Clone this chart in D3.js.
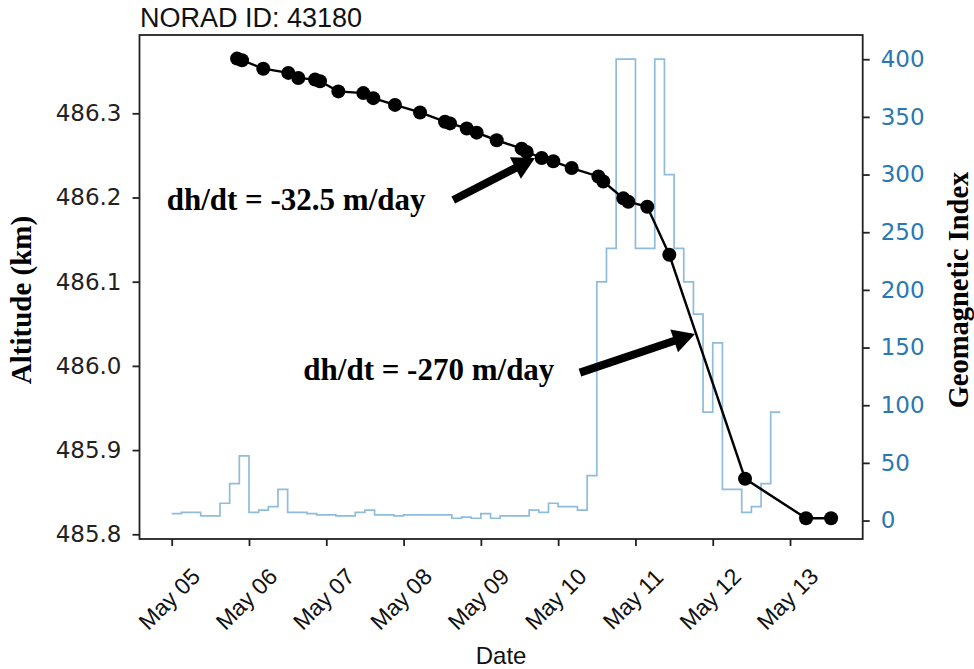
<!DOCTYPE html>
<html>
<head>
<meta charset="utf-8">
<script src="https://cdnjs.cloudflare.com/ajax/libs/d3/7.8.5/d3.min.js"></script>
<style>
  body { margin: 0; background: #fff; }
  svg { display: block; }
</style>
</head>
<body>
<svg></svg>
<script>
/* data */
var title = "NORAD ID: 43180";

// geomagnetic index, 3-hourly steps from May 05 00:00 UTC
var apStart = "2024-05-05T00:00Z";
var apValues = [6, 7, 7, 4, 4, 15, 32, 56,
                7, 9, 12, 27, 7, 7, 6, 5,
                5, 4, 4, 7, 9, 5, 5, 4,
                5, 5, 5, 5, 5, 2, 3, 2,
                6, 2, 4, 4, 4, 9, 7, 15,
                12, 12, 9, 39, 207, 236, 400, 400,
                236, 236, 400, 300, 236, 207, 179, 94,
                154, 27, 27, 7, 12, 32, 94];

// altitude points
var altTimes = ["2024-05-05T20:17Z", "2024-05-05T21:50Z", "2024-05-06T04:26Z", "2024-05-06T12:13Z",
                "2024-05-06T15:19Z", "2024-05-06T20:30Z", "2024-05-06T22:03Z", "2024-05-07T03:45Z",
                "2024-05-07T11:30Z", "2024-05-07T14:35Z", "2024-05-07T21:20Z", "2024-05-08T05:07Z",
                "2024-05-08T12:52Z", "2024-05-08T14:25Z", "2024-05-08T19:37Z", "2024-05-08T22:42Z",
                "2024-05-09T04:55Z", "2024-05-09T12:40Z", "2024-05-09T14:14Z", "2024-05-09T18:53Z",
                "2024-05-09T22:29Z", "2024-05-10T04:12Z", "2024-05-10T12:29Z", "2024-05-10T14:01Z",
                "2024-05-10T20:14Z", "2024-05-10T21:47Z", "2024-05-11T03:40Z", "2024-05-11T10:31Z",
                "2024-05-12T10:02Z", "2024-05-13T04:58Z", "2024-05-13T12:45Z"];
var altValues = [486.365, 486.363, 486.353, 486.348, 486.342, 486.340, 486.338, 486.326,
                 486.324, 486.318, 486.310, 486.301, 486.290, 486.288, 486.282, 486.277,
                 486.268, 486.258, 486.254, 486.247, 486.243, 486.235, 486.225, 486.219,
                 486.199, 486.195, 486.189, 486.132, 485.866, 485.819, 485.819];

var leftTicks = [485.8, 485.9, 486.0, 486.1, 486.2, 486.3];
var rightTicks = [0, 50, 100, 150, 200, 250, 300, 350, 400];

// annotations: text anchor, arrow tail, arrow tip (date, altitude)
var annoTexts = ["dh/dt = -32.5 m/day", "dh/dt = -270 m/day"];
var annoAt = [["2024-05-04T22:26Z", 486.185], ["2024-05-06T16:52Z", 485.983]];
var arrowTail = [["2024-05-08T15:26Z", 486.197], ["2024-05-10T06:46Z", 485.992]];
var arrowTip = [["2024-05-09T16:48Z", 486.247], ["2024-05-11T18:30Z", 486.038]];

/* svg setting */
var svgWidth = 974;
var svgHeight = 669;
var plot = {left: 139.5, right: 862.7, top: 35, bottom: 539};

var svg = d3.select("svg")
    .attr("width", svgWidth)
    .attr("height", svgHeight);

var parse = d3.isoParse;

var scale = {};
scale.x = d3.scaleUtc()
    .domain([parse("2024-05-04T14:00Z"), parse("2024-05-13T22:34Z")])
    .range([plot.left, plot.right]);
scale.y = d3.scaleLinear()
    .domain([485.7944, 486.393])
    .range([plot.bottom, plot.top]);
scale.y2 = d3.scaleLinear()
    .domain([-16, 421])
    .range([plot.bottom, plot.top]);

var sansFont = "'Liberation Sans', Arial, sans-serif";
var dejaFont = "'DejaVu Sans', sans-serif";
var serifFont = "'Liberation Serif', 'Times New Roman', serif";
var tickColor = "#222";
var blueText = "#2a78b2";

/* geomagnetic step line */
var t0 = parse(apStart);
var apData = apValues.map(function(v, i){
  return {t: d3.utcHour.offset(t0, 3 * i), v: v};
});
apData.push({t: d3.utcHour.offset(t0, 3 * apValues.length), v: apValues[apValues.length - 1]});

var stepLine = d3.line()
    .curve(d3.curveStepAfter)
    .x(function(d){ return scale.x(d.t); })
    .y(function(d){ return scale.y2(d.v); });

svg.append("path")
    .datum(apData)
    .attr("d", stepLine)
    .attr("fill", "none")
    .attr("stroke", "#8fbcdb")
    .attr("stroke-width", 1.7);

/* altitude line and dots */
var altData = altTimes.map(function(t, i){
  return {t: parse(t), v: altValues[i]};
});

var altLine = d3.line()
    .x(function(d){ return scale.x(d.t); })
    .y(function(d){ return scale.y(d.v); });

svg.append("path")
    .datum(altData)
    .attr("d", altLine)
    .attr("fill", "none")
    .attr("stroke", "#000")
    .attr("stroke-width", 2.4);

svg.append("g").selectAll("circle")
    .data(altData)
    .enter()
    .append("circle")
    .attr("cx", function(d){ return scale.x(d.t); })
    .attr("cy", function(d){ return scale.y(d.v); })
    .attr("r", 7)
    .attr("fill", "#000");

/* axes */
var xAxis = svg.append("g")
    .attr("transform", translate(0, plot.bottom))
    .call(d3.axisBottom(scale.x)
      .ticks(d3.utcDay.every(1))
      .tickFormat(d3.utcFormat("%b %d"))
      .tickSize(7)
      .tickSizeOuter(0));
xAxis.select(".domain").remove();
xAxis.selectAll("line").attr("stroke", tickColor).attr("stroke-width", 1.8);
xAxis.selectAll("text")
    .attr("x", 0).attr("y", 0).attr("dy", "0.35em")
    .attr("text-anchor", "middle")
    .attr("transform", "translate(-3,60) rotate(-45)")
    .style("font-family", sansFont)
    .style("font-size", "23px")
    .attr("fill", "#111");

var yAxis = svg.append("g")
    .attr("transform", translate(plot.left, 0))
    .call(d3.axisLeft(scale.y)
      .tickValues(leftTicks)
      .tickFormat(d3.format(".1f"))
      .tickSize(7)
      .tickPadding(11)
      .tickSizeOuter(0));
yAxis.select(".domain").remove();
yAxis.selectAll("line").attr("stroke", tickColor).attr("stroke-width", 1.8);
yAxis.selectAll("text")
    .style("font-family", dejaFont)
    .style("font-size", "23px")
    .attr("fill", "#222");

var y2Axis = svg.append("g")
    .attr("transform", translate(plot.right, 0))
    .call(d3.axisRight(scale.y2)
      .tickValues(rightTicks)
      .tickSize(7)
      .tickPadding(11)
      .tickSizeOuter(0));
y2Axis.select(".domain").remove();
y2Axis.selectAll("line").attr("stroke", tickColor).attr("stroke-width", 1.8);
y2Axis.selectAll("text")
    .style("font-family", dejaFont)
    .style("font-size", "23px")
    .attr("fill", blueText);

/* frame */
svg.append("rect")
    .attr("x", plot.left)
    .attr("y", plot.top)
    .attr("width", plot.right - plot.left)
    .attr("height", plot.bottom - plot.top)
    .attr("fill", "none")
    .attr("stroke", tickColor)
    .attr("stroke-width", 1.8);

/* labels */
svg.append("text")
    .attr("x", 140).attr("y", 27)
    .style("font-family", sansFont)
    .style("font-size", "27px")
    .attr("fill", "#111")
    .text(title);

svg.append("text")
    .attr("x", (plot.left + plot.right) / 2).attr("y", 664)
    .attr("text-anchor", "middle")
    .style("font-family", sansFont)
    .style("font-size", "24px")
    .attr("fill", "#111")
    .text("Date");

svg.append("text")
    .attr("transform", translate(31, 300) + " rotate(-90)")
    .attr("text-anchor", "middle")
    .style("font-family", serifFont)
    .style("font-weight", "bold")
    .style("font-size", "29px")
    .attr("fill", "#000")
    .text("Altitude (km)");

svg.append("text")
    .attr("transform", translate(968, 290) + " rotate(-90)")
    .attr("text-anchor", "middle")
    .style("font-family", serifFont)
    .style("font-weight", "bold")
    .style("font-size", "28.5px")
    .attr("fill", "#000")
    .text("Geomagnetic Index");

/* annotations */
annoTexts.forEach(function(txt, i){
  svg.append("text")
      .attr("x", scale.x(parse(annoAt[i][0])))
      .attr("y", scale.y(annoAt[i][1]))
      .style("font-family", serifFont)
      .style("font-weight", "bold")
      .style("font-size", "31px")
      .attr("fill", "#000")
      .text(txt);
  drawArrow(
    scale.x(parse(arrowTail[i][0])), scale.y(arrowTail[i][1]),
    scale.x(parse(arrowTip[i][0])), scale.y(arrowTip[i][1]));
});

function drawArrow(x0, y0, x1, y1){
  var headLen = 22, headW = 24;
  var dx = x1 - x0, dy = y1 - y0;
  var len = Math.sqrt(dx * dx + dy * dy);
  var ux = dx / len, uy = dy / len;
  var nx = -uy, ny = ux;
  var bx = x1 - ux * headLen, by = y1 - uy * headLen;
  svg.append("line")
      .attr("x1", x0).attr("y1", y0)
      .attr("x2", bx + ux * 2).attr("y2", by + uy * 2)
      .attr("stroke", "#000")
      .attr("stroke-width", 8);
  svg.append("path")
      .attr("d", "M" + x1 + "," + y1 +
                 "L" + (bx + nx * headW / 2) + "," + (by + ny * headW / 2) +
                 "L" + (bx - nx * headW / 2) + "," + (by - ny * headW / 2) + "Z")
      .attr("fill", "#000");
}

function translate(x, y) {
  return "translate(" + x + "," + y + ")";
}
</script>
</body>
</html>
